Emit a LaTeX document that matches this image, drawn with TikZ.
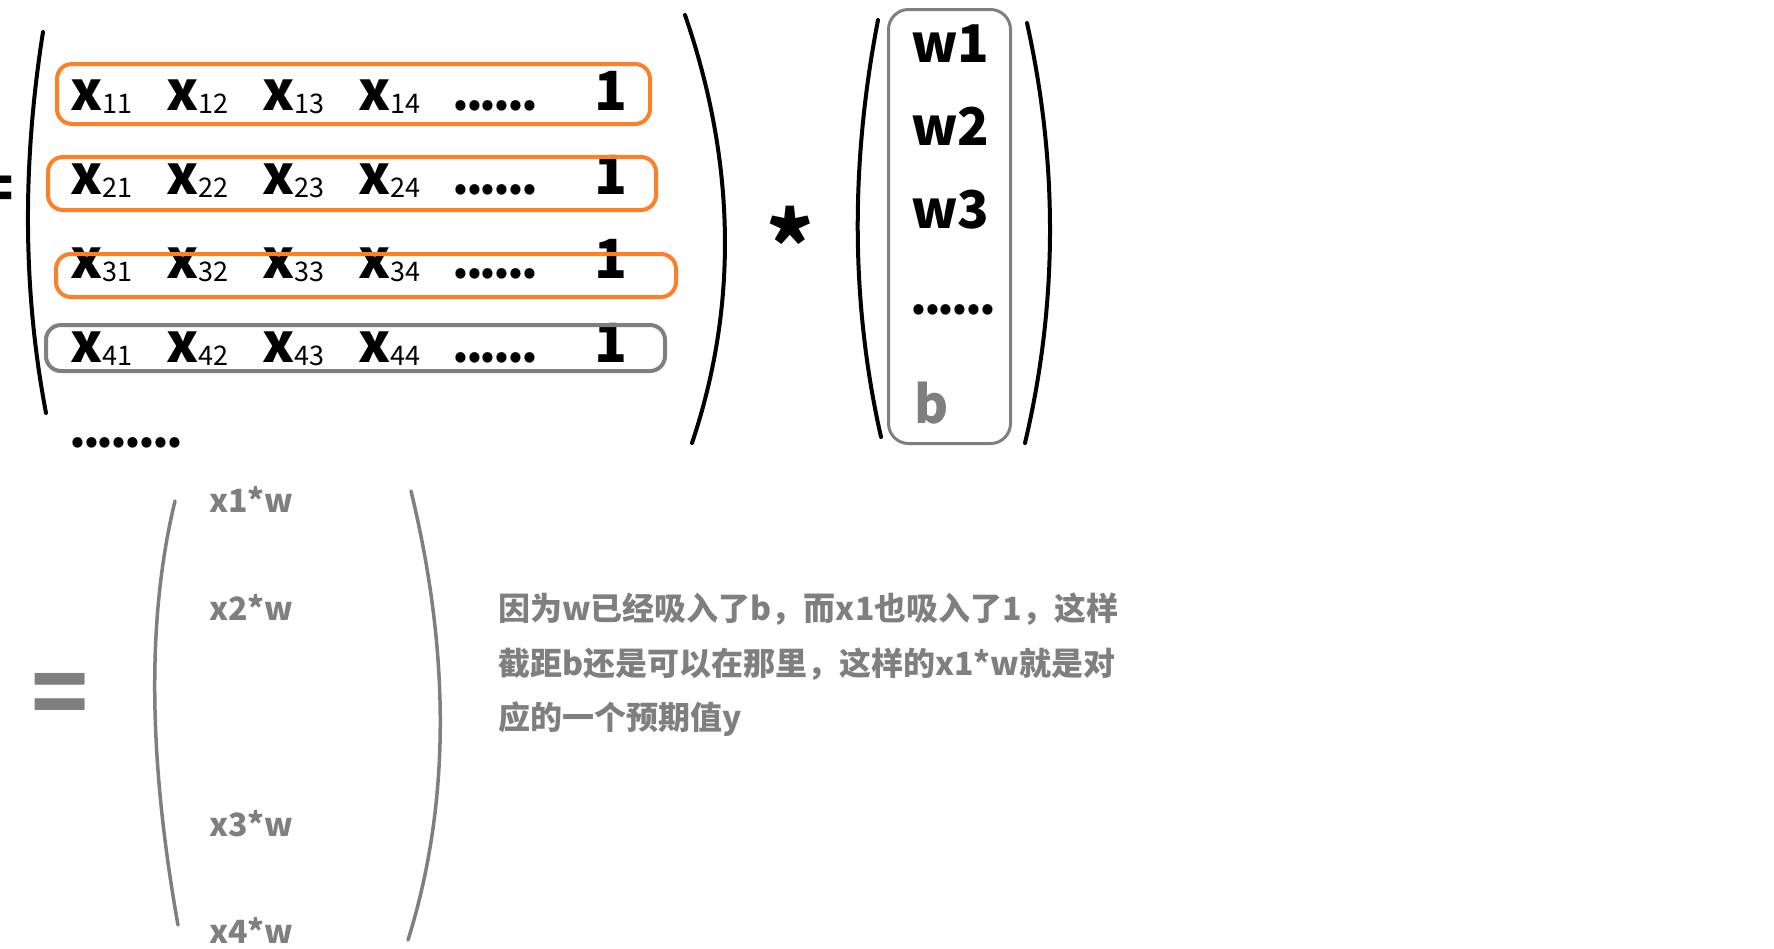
\documentclass[tikz,border=0pt]{standalone}
\usepackage{fontspec}
\setmainfont{Noto Sans CJK SC}
\usetikzlibrary{positioning, calc}

\definecolor{paintorange}{RGB}{255,127,39}
\definecolor{paintgray}{RGB}{127,127,127}

\tikzset{
  big/.style={inner sep=0pt, font=\bfseries\fontsize{54}{60}\selectfont},
  wbig/.style={big, font=\bfseries\fontsize{52}{60}\selectfont},
  dotted row/.style={big, font=\bfseries\fontsize{48}{60}\selectfont},
  rowbox/.style={draw=paintorange, line width=4pt, rounded corners=15pt},
  bracket/.style={line width=4pt, line cap=round},
  note/.style={inner sep=0pt, anchor=base west, text=paintgray,
    font=\bfseries\fontsize{32}{36}\selectfont}
}
\newcommand{\ent}[2]{x\raisebox{-3pt}{\mdseries\fontsize{27}{30}\selectfont #1#2}}
\newcommand{\dd}{.\kern-3pt}

\begin{document}
\begin{tikzpicture}[x=1pt, y=-1pt, line join=round, line cap=round]
    \useasboundingbox (0,0) rectangle (1774,948);

    % 矩阵 X
    \node[big, font=\bfseries\fontsize{60}{60}\selectfont, anchor=base east] (eqtop) at (14,210) {=};
    \draw[bracket] (43,32) .. controls (22,165) and (23,292) .. (46,413);
    \draw[bracket] (685,15) .. controls (736,163) and (738,306) .. (692,443);

    \foreach \r/\y in {1/110, 2/194, 3/278, 4/362} {
        \node[big, anchor=base west] (x\r1) at (70,\y) {\ent{\r}{1}};
        \node[big, anchor=base west] (x\r2) at (166,\y) {\ent{\r}{2}};
        \node[big, anchor=base west] (x\r3) at (262,\y) {\ent{\r}{3}};
        \node[big, anchor=base west] (x\r4) at (358,\y) {\ent{\r}{4}};
        \node[dotted row, anchor=base west] (dots\r) at (452,\y) {\dd\dd\dd\dd\dd.};
        \node[big, anchor=base west] (one\r) at (594,\y) {1};
    }
    \node[dotted row, anchor=base west] (dotsX) at (69,447) {\dd\dd\dd\dd\dd\dd\dd.};

    % 每一行
    \draw[rowbox] (57,64) rectangle (650,124);
    \draw[rowbox] (48,157) rectangle (656,210);
    \draw[rowbox] (56,254) rectangle (676,297);
    \draw[rowbox, draw=paintgray] (46,325) rectangle (665,371);

    \node[big, font=\bfseries\fontsize{90}{90}\selectfont, anchor=base] (times) at (790,279) {*};

    % 向量 w
    \draw[bracket] (878,20) .. controls (850,165) and (851,304) .. (881,437);
    \draw[bracket] (1027,23) .. controls (1058,163) and (1058,303) .. (1025,443);
    \draw[paintgray, line width=3pt, rounded corners=20pt] (888.5,9.5) rectangle (1010.5,443.5);
    \node[wbig, anchor=base west] (w1) at (911,62) {w1};
    \node[wbig, anchor=base west] (w2) at (911,145) {w2};
    \node[wbig, anchor=base west] (w3) at (911,228) {w3};
    \node[dotted row, anchor=base west] (dotsW) at (910,314) {\dd\dd\dd\dd\dd.};
    \node[wbig, text=paintgray, anchor=base west] (b) at (914,423) {b};

    % 结果
    \node[big, font=\bfseries\fontsize{94}{94}\selectfont, text=paintgray, anchor=base] (eqbot) at (60,727) {=};
    \draw[bracket, paintgray, line width=3.5pt] (175,501) .. controls (147,616) and (148,757) .. (178,925);
    \draw[bracket, paintgray, line width=3.5pt] (411,491) .. controls (451,656) and (450,806) .. (408,940);
    \node[note] (y1) at (209,512) {x1*w};
    \node[note] (y2) at (209,620) {x2*w};
    \node[note] (y3) at (209,836) {x3*w};
    \node[note] (y4) at (209,943) {x4*w};

    \node[note] (txt1) at (498,620) {因为w已经吸入了b，而x1也吸入了1，这样};
    \node[note] (txt2) at (498,675) {截距b还是可以在那里，这样的x1*w就是对};
    \node[note] (txt3) at (498,729) {应的一个预期值y};
\end{tikzpicture}
\end{document}
